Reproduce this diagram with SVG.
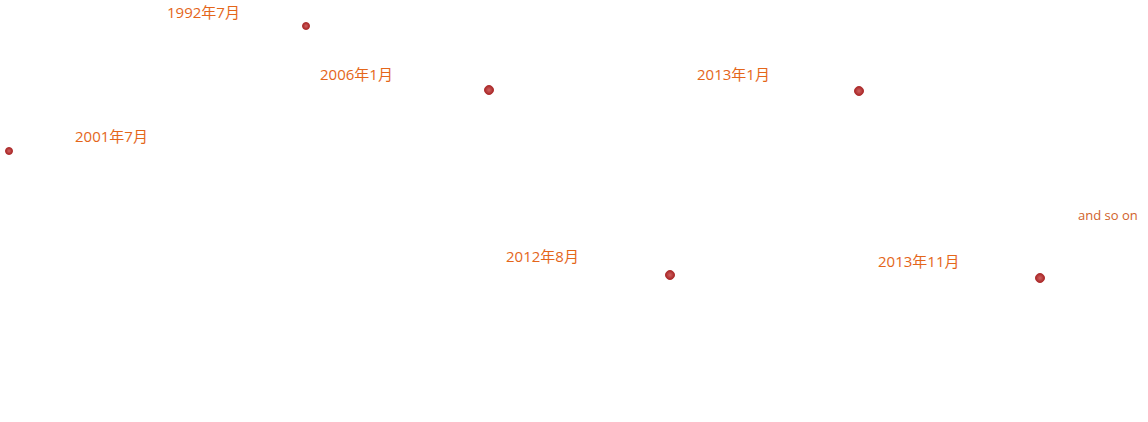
<svg xmlns="http://www.w3.org/2000/svg" width="1148" height="422" viewBox="0 0 1148 422">
<defs><radialGradient id="g"><stop offset="0" stop-color="#d06060"/><stop offset="1" stop-color="#a82828"/></radialGradient></defs>
<style>
text{font-family:"Open Sans","Noto Sans CJK SC",sans-serif;fill:#e4661a;font-size:15px}
.s{font-size:13px;fill:#d0622a}
circle{fill:url(#g);stroke:#b03030;stroke-width:1}
</style>
<rect width="1148" height="422" fill="#fff"/>
<g id="connectors"/>
<g id="n1"><circle cx="306" cy="26" r="3.5"/><text x="167" y="18">1992年7月</text></g>
<g id="n2"><circle cx="9" cy="151" r="3.5"/><text x="75" y="142">2001年7月</text></g>
<g id="n3"><circle cx="489" cy="90" r="4.5"/><text x="320" y="80">2006年1月</text></g>
<g id="n4"><circle cx="670" cy="275" r="4.5"/><text x="506" y="262">2012年8月</text></g>
<g id="n5"><circle cx="859" cy="91" r="4.5"/><text x="697" y="80">2013年1月</text></g>
<g id="n6"><circle cx="1040" cy="278" r="4.5"/><text x="878" y="267">2013年11月</text></g>
<g id="n7"><text class="s" x="1078" y="220">and so on</text></g>
</svg>
